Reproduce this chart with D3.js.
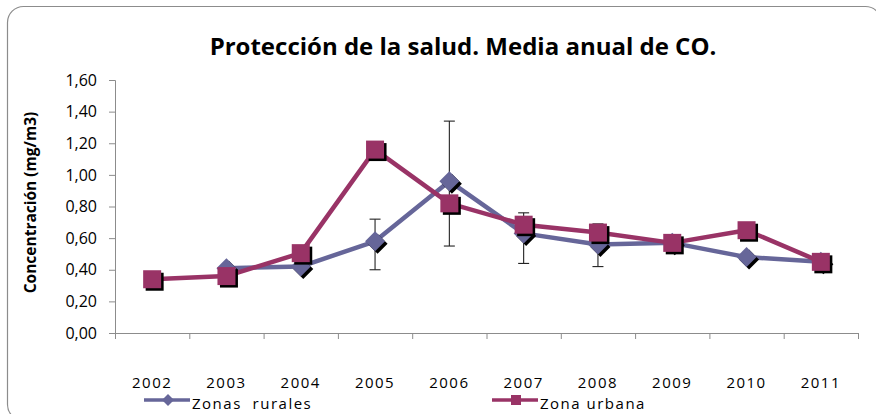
<!DOCTYPE html>
<html>
<head>
<meta charset="utf-8">
<script src="https://cdn.jsdelivr.net/npm/d3@7"></script>
<style>
  html, body { margin: 0; padding: 0; background: #fff; }
  svg { display: block; }
  text { font-family: "Open Sans", "Liberation Sans", sans-serif; fill: #000; }
</style>
</head>
<body>
<div id="chart"></div>
<script>
// Protección de la salud - media anual de CO
const years = ['2002', '2003', '2004', '2005', '2006', '2007', '2008', '2009', '2010', '2011'];
const rurales = [null, 0.41, 0.42, 0.58, 0.96, 0.63, 0.56, 0.57, 0.48, 0.45];
const urbana = [0.34, 0.36, 0.505, 1.16, 0.82, 0.685, 0.635, 0.57, 0.65, 0.45];
// error bars on the rural series (low / high ends)
const errLow = [null, null, null, 0.40, 0.55, 0.44, 0.42, null, null, null];
const errHigh = [null, null, null, 0.72, 1.34, 0.76, 0.69, null, null, null];
const yTicks = [0, 0.2, 0.4, 0.6, 0.8, 1.0, 1.2, 1.4, 1.6];

const W = 876, H = 414;
const margin = { top: 80, right: 18, bottom: 81, left: 115 };
const ruralColor = '#666699';
const urbanColor = '#993366';

const svg = d3.select('#chart').append('svg')
  .attr('width', W)
  .attr('height', H);

// outer chart frame (rounded, runs off right/bottom edge)
svg.append('rect')
  .attr('x', 7.5).attr('y', 6.5)
  .attr('width', 874).attr('height', 414)
  .attr('rx', 16)
  .attr('fill', '#fff')
  .attr('stroke', '#8c8c8c')
  .attr('stroke-width', 1.2);

svg.append('text')
  .attr('x', 463).attr('y', 55)
  .attr('text-anchor', 'middle')
  .attr('font-size', '24px')
  .attr('font-weight', 700)
  .text('Protección de la salud. Media anual de CO.');

const x = d3.scaleBand()
  .domain(years)
  .range([margin.left, W - margin.right]);

const xEdge = d3.scaleLinear()
  .domain([0, years.length])
  .range([margin.left, W - margin.right]);

const y = d3.scaleLinear()
  .domain([0, 1.6])
  .range([H - margin.bottom, margin.top]);

const cx = (d, i) => x(years[i]) + x.bandwidth() / 2;

// y axis
const yAxis = svg.append('g')
  .attr('transform', `translate(${margin.left},0)`)
  .call(d3.axisLeft(y).tickValues(yTicks).tickSize(6).tickPadding(12)
    .tickFormat(d => d.toFixed(2).replace('.', ',')));
yAxis.selectAll('path, line').attr('stroke', '#8c8c8c');
yAxis.selectAll('text')
  .attr('font-size', '16px')
  .attr('fill', '#000')
  .style('font-family', '"Open Sans", sans-serif');

// x axis: ticks between categories
const xAxis = svg.append('g')
  .attr('transform', `translate(0,${y(0)})`)
  .call(d3.axisBottom(xEdge).tickValues(d3.range(years.length + 1)).tickSize(6).tickSizeOuter(0).tickFormat(''));
xAxis.selectAll('path, line').attr('stroke', '#8c8c8c');

const xLabels = svg.append('g')
  .attr('transform', `translate(0,${y(0)})`)
  .call(d3.axisBottom(x).tickSize(0).tickPadding(44));
xLabels.select('.domain').remove();
xLabels.selectAll('text')
  .attr('font-size', '15px')
  .attr('fill', '#000')
  .style('letter-spacing', '1.5px')
  .style('font-family', '"Open Sans", sans-serif');

// y title
svg.append('text')
  .attr('transform', `translate(36,${(y(0) + y(1.6)) / 2 - 4}) rotate(-90)`)
  .attr('text-anchor', 'middle')
  .attr('font-size', '15.5px')
  .attr('font-weight', 700)
  .text('Concentración (mg/m3)');

// error bars
const eb = svg.append('g').attr('stroke', '#222').attr('stroke-width', 1.1);
years.forEach((yr, i) => {
  if (errLow[i] == null) return;
  const px = cx(null, i);
  eb.append('line').attr('x1', px).attr('x2', px).attr('y1', y(errLow[i])).attr('y2', y(errHigh[i]));
  eb.append('line').attr('x1', px - 5.5).attr('x2', px + 5.5).attr('y1', y(errLow[i])).attr('y2', y(errLow[i]));
  eb.append('line').attr('x1', px - 5.5).attr('x2', px + 5.5).attr('y1', y(errHigh[i])).attr('y2', y(errHigh[i]));
});

const line = d3.line()
  .defined(d => d != null)
  .x(cx)
  .y(d => y(d));

const diamond = s => `M0,${-s}L${s},0L0,${s}L${-s},0Z`;
const square = s => `M${-s},${-s}H${s}V${s}H${-s}Z`;

function drawSeries(values, color, shape, size) {
  svg.append('path')
    .datum(values)
    .attr('fill', 'none')
    .attr('stroke', color)
    .attr('stroke-width', 4.5)
    .attr('stroke-linejoin', 'round')
    .attr('d', line);

  const pts = values.map((v, i) => ({ v, i })).filter(d => d.v != null);
  const g = svg.append('g');
  g.selectAll('.shadow')
    .data(pts)
    .enter().append('path')
    .attr('transform', d => `translate(${cx(null, d.i) + 2.5},${y(d.v) + 2.5})`)
    .attr('d', shape(size))
    .attr('fill', '#000');
  g.selectAll('.mark')
    .data(pts)
    .enter().append('path')
    .attr('transform', d => `translate(${cx(null, d.i)},${y(d.v)})`)
    .attr('d', shape(size))
    .attr('fill', color);
}

drawSeries(rurales, ruralColor, diamond, 10);
drawSeries(urbana, urbanColor, square, 9);

// legend
const legend = [
  { name: 'Zonas  rurales', color: ruralColor, shape: diamond, size: 6, x: 144 },
  { name: 'Zona urbana', color: urbanColor, shape: square, size: 5, x: 492 }
];
const lg = svg.append('g').attr('transform', 'translate(0,400)');
legend.forEach(l => {
  lg.append('line')
    .attr('x1', l.x).attr('x2', l.x + 46)
    .attr('stroke', l.color).attr('stroke-width', 3.5);
  lg.append('path')
    .attr('transform', `translate(${l.x + 24},0)`)
    .attr('d', l.shape(l.size))
    .attr('fill', l.color);
  lg.append('text')
    .attr('x', l.x + 48).attr('y', 9)
    .attr('font-size', '15px')
    .style('letter-spacing', '1.5px')
    .style('white-space', 'pre')
    .attr('xml:space', 'preserve')
    .text(l.name);
});
</script>
</body>
</html>
